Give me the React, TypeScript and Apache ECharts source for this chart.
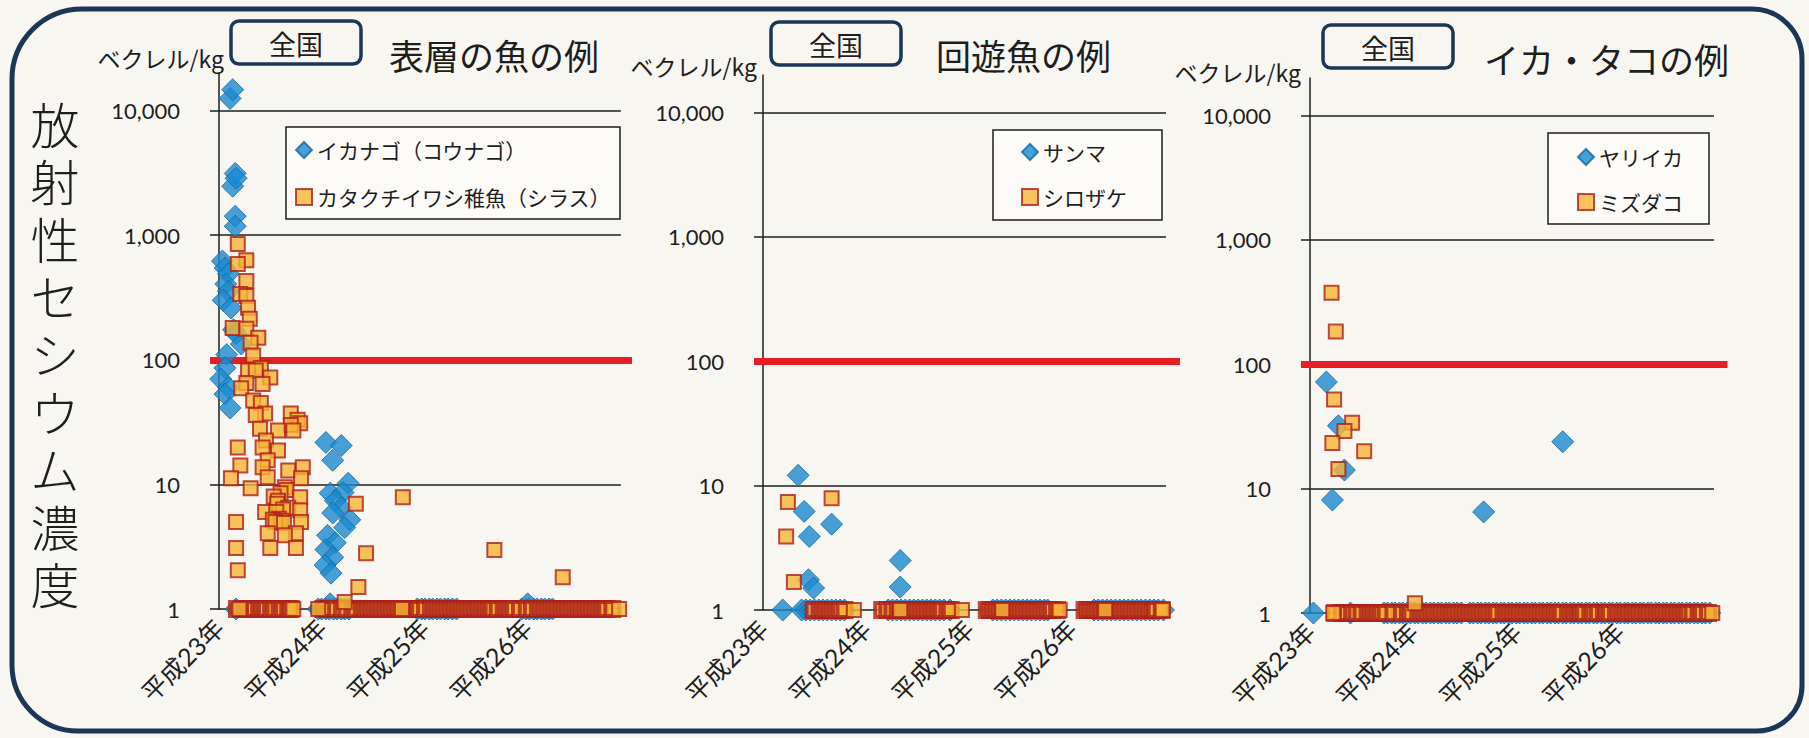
import React, { useEffect, useRef } from 'react';
import * as echarts from 'echarts';

// x values: months from the start of 平成23年 on the time axis; y values: Bq/kg.
// Samples below detection are plotted on the 1 Bq/kg baseline.
const ND_VALUE = 1;

const yearTickMonths = [0, 12, 24, 36];
const yearLabels = ['平成23年', '平成24年', '平成25年', '平成26年'];
const gridLineValues = [1, 10, 1000, 10000];
const limitValue = 100;
const lastMonth = 47;

const panelTitles = ['表層の魚の例', '回遊魚の例', 'イカ・タコの例'];
const regionLabel = '全国';
const unitLabel = 'ベクレル/kg';
const axisTitle = '放射性セシウム濃度';

// ---------- Panel 1: 表層の魚 ----------
const ikanagoName = 'イカナゴ（コウナゴ）';
const ikanagoDetected = [
  [1.3, 12500], [1.6, 14700], [1.6, 2470], [1.9, 3130], [2.0, 2860], [1.9, 1420], [1.9, 1180],
  [0.4, 620], [0.7, 545], [1.1, 490], [0.8, 405], [1.1, 355], [0.5, 300], [1.4, 260], [1.7, 174],
  [2.0, 162], [2.6, 134], [0.9, 110], [0.7, 86], [0.2, 70], [1.1, 60], [0.7, 53], [1.3, 41],
  [12.5, 21.7], [14.3, 20.5], [13.3, 15.6], [15.1, 10.2], [13.0, 8.5], [14.5, 8.6], [13.6, 7.4],
  [14.3, 6.5], [13.3, 5.9], [15.3, 5.2], [14.7, 4.5], [12.7, 3.9], [13.6, 3.4], [12.5, 3.0],
  [13.3, 2.6], [12.4, 2.25], [13.1, 1.94], [13.0, 1.1], [36.1, 1.1],
];
const ikanagoND = [
  2.0, 11.6, 12.0, 12.5, 12.9, 13.4, 13.8, 14.3, 14.7, 15.2,
  23.2, 23.7, 24.1, 24.6, 25.0, 25.5, 25.9, 26.4, 26.8, 27.3, 27.8,
  35.4, 35.9, 36.3, 36.8, 37.2, 37.7, 38.1, 38.6, 39.0,
];
const shirasuName = 'カタクチイワシ稚魚（シラス）';
const shirasuDetected = [
  [2.2, 847], [3.2, 630], [2.2, 586], [3.2, 429], [2.5, 337], [3.2, 325], [3.4, 261], [3.6, 213],
  [1.6, 180], [3.2, 177], [4.6, 150], [3.7, 137], [4.0, 108], [4.9, 86], [3.4, 82], [4.3, 82],
  [6.0, 72], [3.2, 65], [2.6, 59], [5.1, 64], [4.0, 47], [4.9, 45], [5.4, 37], [8.4, 37],
  [4.3, 36], [9.2, 33], [9.5, 31], [8.4, 30], [8.7, 27], [6.9, 27], [4.8, 28], [5.5, 22.5],
  [2.2, 19.8], [6.9, 18.7], [5.1, 19.8], [5.7, 15.6], [2.5, 14.2], [9.8, 13.7], [5.1, 13.7],
  [8.1, 12.9], [1.4, 11.2], [9.6, 11.2], [5.7, 11.4], [3.7, 9.3], [7.7, 9.5], [7.9, 9.0],
  [7.2, 8.5], [6.4, 8.0], [9.5, 7.9], [6.9, 7.4], [6.8, 7.0], [8.1, 6.5], [7.5, 6.3], [9.5, 6.2],
  [5.4, 6.0], [6.7, 6.0], [7.0, 5.3], [6.3, 5.2], [7.3, 5.1], [6.6, 5.0], [9.6, 5.0], [2.0, 5.0],
  [7.6, 4.9], [16.0, 7.0], [5.7, 4.05], [9.0, 4.05], [7.7, 3.9], [2.0, 3.08], [6.0, 3.08],
  [9.0, 3.08], [17.2, 2.8], [2.2, 2.05], [16.3, 1.5], [14.7, 1.14], [21.5, 7.9], [32.2, 2.97],
  [40.2, 1.8],
];
const shirasuND = [
  2.1, 2.9, 3.3, 3.7, 4.1, 4.7, 5.1, 5.5, 6.1, 6.5, 7.1, 7.5, 8.1, 8.4,
  12.2, 12.6, 13.0, 13.7, 14.4, 14.9, 15.6, 16.0, 16.7, 17.1, 17.5, 17.9, 18.3, 18.7, 19.1,
  19.5, 19.9, 20.3, 20.7, 21.1, 21.8, 22.2, 22.6, 23.0, 23.4, 24.1, 24.8, 25.2, 25.6, 26.0,
  26.4, 26.8, 27.2, 27.6, 28.0, 28.4, 28.8, 29.2, 29.6, 30.0, 30.4, 30.8, 31.2, 31.6, 32.0,
  32.6, 33.3, 33.7, 34.1, 34.5, 35.2, 36.0, 36.6, 37.3, 37.7, 38.1, 38.5, 38.9, 39.3, 39.7,
  40.1, 40.5, 40.9, 41.3, 41.7, 42.1, 42.5, 42.9, 43.3, 43.7, 44.1, 44.5, 44.9, 45.3, 46.0,
];
const shirasuNDTop = [2.4, 8.7, 11.6, 21.4, 46.8];

// ---------- Panel 2: 回遊魚 ----------
const sanmaName = 'サンマ';
const sanmaDetected = [
  [4.1, 12.1], [4.8, 6.2], [8.0, 4.9], [5.4, 3.9], [16.0, 2.5], [5.3, 1.75], [5.9, 1.5], [16.0, 1.53],
];
const sanmaND = [
  2.3, 4.5, 5.0, 5.5, 6.0, 6.5, 7.0, 7.5, 8.0, 8.5, 9.0, 9.5,
  14.6, 15.1, 15.6, 16.1, 16.6, 17.1, 17.6, 18.1, 18.6, 19.1, 19.6, 20.1, 20.6, 21.1, 21.8,
  26.8, 27.3, 27.8, 28.3, 28.8, 29.3, 29.8, 30.3, 30.8, 31.3, 31.8, 32.3, 32.8, 33.2,
  38.6, 39.1, 39.6, 40.1, 40.6, 41.1, 41.6, 42.1, 42.6, 43.1, 43.6, 44.1, 44.6, 45.1, 45.6,
  46.1, 46.7,
];
const shirozakeName = 'シロザケ';
const shirozakeDetected = [[2.9, 7.4], [8.0, 7.9], [2.7, 3.9], [3.6, 1.68]];
const shirozakeND = [
  5.9, 6.6, 7.0, 7.4, 7.8, 8.2, 8.6, 9.0, 9.5,
  13.9, 14.5, 15.1, 15.7, 16.1, 16.5, 16.9, 17.3, 17.7, 18.1, 18.5, 18.9, 19.3, 19.7, 20.1,
  20.5, 20.9, 21.5, 21.9,
  26.1, 26.5, 26.9, 27.3, 27.7, 28.1, 28.5, 28.9, 29.3, 29.7, 30.1, 30.5, 30.9, 31.3, 31.7,
  32.1, 32.5, 32.9, 33.3, 33.7, 34.3,
  37.5, 37.9, 38.3, 38.7, 39.1, 39.5, 39.9, 40.3, 40.7, 41.1, 41.5, 41.9, 42.3, 42.7, 43.1,
  43.5, 43.9, 44.3, 44.7, 45.1, 45.5, 45.8, 46.5,
];
const shirozakeNDTop = [10.6, 16.0, 23.2, 27.9, 34.6, 39.9, 46.6];

// ---------- Panel 3: イカ・タコ ----------
const yariikaName = 'ヤリイカ';
const yariikaDetected = [[1.9, 72], [3.3, 32], [4.0, 14.1], [2.6, 8.1], [20.2, 6.5], [29.4, 23.8]];
const yariikaND = [
  0.4, 4.7, 8.6, 9.0, 9.5, 9.9, 10.4, 10.8, 11.3, 11.7, 12.2, 12.6, 13.1, 13.5, 14.0, 14.4,
  14.9, 15.3, 15.8, 16.2, 16.7, 17.1, 17.6, 18.6, 19.0, 19.5, 19.9, 20.4, 20.8, 21.3, 21.7,
  22.2, 22.6, 23.1, 23.5, 24.0, 24.4, 24.9, 25.3, 25.8, 26.2, 26.7, 27.1, 27.6, 28.0, 28.5,
  28.9, 29.4, 29.8, 30.3, 30.7, 31.2, 31.6, 32.1, 32.5, 33.0, 33.4, 33.9, 34.3, 34.8, 35.2,
  35.7, 36.1, 36.6, 37.0, 37.5, 37.9, 38.4, 38.8, 39.3, 39.7, 40.2, 40.6, 41.1, 41.5, 42.0,
  42.4, 42.9, 43.3, 43.8, 44.2, 44.7, 45.1, 45.6, 46.0, 46.5,
];
const mizudakoName = 'ミズダコ';
const mizudakoDetected = [
  [2.5, 375], [3.0, 183], [2.8, 52], [4.9, 33.8], [4.0, 29], [2.6, 23.3], [6.3, 20], [3.3, 14.4],
  [12.2, 1.2],
];
const mizudakoND = [
  2.9, 3.7, 4.3, 4.9, 5.4, 6.0, 6.7, 7.1, 7.5, 7.9, 8.3, 8.8, 9.7, 10.7, 11.4, 11.8, 12.6,
  13.0, 13.4, 13.8, 14.2, 14.6, 15.0, 15.4, 15.8, 16.2, 16.6, 17.0, 17.4, 17.8, 18.2, 18.6,
  19.0, 19.4, 19.8, 20.2, 20.6, 21.0, 21.4, 21.8, 22.5, 22.9, 23.3, 23.7, 24.1, 24.5, 24.9,
  25.3, 25.7, 26.1, 26.5, 26.9, 27.3, 27.7, 28.1, 28.5, 28.9, 29.3, 30.0, 30.4, 30.8, 31.2,
  31.5, 31.9, 32.6, 33.0, 33.5, 34.2, 34.5, 34.9, 35.6, 36.0, 36.4, 36.8, 37.2, 37.6, 38.0,
  38.4, 38.8, 39.2, 39.6, 40.0, 40.4, 40.8, 41.2, 41.6, 42.0, 42.4, 42.8, 43.2, 43.6, 44.0,
  44.5, 45.2, 45.6, 46.3,
];
const mizudakoNDTop = [2.7, 46.8];

// ---------- styling / layout ----------
const BLUE = '#1a8ad0';
const BLUE_EDGE = '#15679e';
const AMBER = '#f6b437';
const RED_EDGE = '#ad1f1a';
const LIMIT_RED = '#e61f27';
const INK = '#1e1e1e';
const NAVY = '#1c3656';
const PAPER = '#f8f6f1';
const JP = '"Noto Sans CJK JP", sans-serif';
const NUM = 'Lato, "Noto Sans CJK JP", sans-serif';
const TITLE_FONT = '"DejaVu Sans", "Noto Sans CJK JP", sans-serif';

const panels = [
  {
    names: [ikanagoName, shirasuName],
    diamond: { detected: ikanagoDetected, nd: ikanagoND },
    square: { detected: shirasuDetected, nd: shirasuND, top: shirasuNDTop },
    grid: { left: 210, top: 73, width: 422, height: 536 }, xMin: -1.05, xMax: 48.3,
    legend: { left: 286, top: 127, padding: [12.5, 9, 11.5, 9], gap: 26 },
    box: { x: 231, y: 21 }, title: { x: 389, y: 54 }, unit: { x: 224, y: 58 },
  },
  {
    names: [sanmaName, shirozakeName],
    diamond: { detected: sanmaDetected, nd: sanmaND },
    square: { detected: shirozakeDetected, nd: shirozakeND, top: shirozakeNDTop },
    grid: { left: 754, top: 75, width: 426, height: 535 }, xMin: -1.05, xMax: 48.63,
    legend: { left: 993, top: 130, padding: [11.5, 35, 12.5, 28], gap: 24 },
    box: { x: 771, y: 22 }, title: { x: 936, y: 54 }, unit: { x: 757, y: 66 },
  },
  {
    names: [yariikaName, mizudakoName],
    diamond: { detected: yariikaDetected, nd: yariikaND },
    square: { detected: mizudakoDetected, nd: mizudakoND, top: mizudakoNDTop },
    grid: { left: 1301, top: 78, width: 426.5, height: 535 }, xMin: -1.05, xMax: 48.57,
    legend: { left: 1548, top: 133, padding: [13.5, 26, 11.5, 29], gap: 24 },
    box: { x: 1323, y: 25 }, title: { x: 1484, y: 58 }, unit: { x: 1301, y: 72 },
  },
];

function textEl(x: number, y: number, text: string, extra: any) {
  const align = extra.align || 'left';
  const vAlign = extra.verticalAlign || 'middle';
  return {
    type: 'text', x, y, silent: true, z: 10,
    style: {
      text, fill: INK, fontFamily: JP, fontSize: 20,
      align, textAlign: align, verticalAlign: vAlign, textVerticalAlign: vAlign,
      ...extra,
    },
  };
}

function buildOption() {
  const grids: any[] = [];
  const xAxes: any[] = [];
  const yAxes: any[] = [];
  const series: any[] = [];
  const legends: any[] = [];
  const graphics: any[] = [];

  graphics.push({
    type: 'rect', silent: true, z: 0,
    shape: { x: 12, y: 9, width: 1790, height: 722, r: [70, 50, 45, 66] },
    style: { fill: 'none', stroke: NAVY, lineWidth: 5 },
  });
  axisTitle.split('').forEach((ch, k) => {
    graphics.push(textEl(55, 127 + k * 57.6, ch, {
      fontSize: 49, align: 'center', verticalAlign: 'middle', fontWeight: 300, fontFamily: TITLE_FONT,
    }));
  });

  panels.forEach((p, i) => {
    grids.push({ ...p.grid });
    xAxes.push({
      type: 'value', gridIndex: i, min: p.xMin, max: p.xMax,
      axisLine: { show: false, onZero: false }, axisTick: { show: false }, splitLine: { show: false },
      axisLabel: {
        customValues: yearTickMonths, rotate: 45, margin: 14, fontSize: 25, color: INK, fontFamily: NUM,
        formatter: (v: number) => {
          const k = yearTickMonths.indexOf(Math.round(v));
          return k >= 0 && Math.abs(v - Math.round(v)) < 1e-6 ? yearLabels[k] : '';
        },
      },
    });
    yAxes.push({
      type: 'log', logBase: 10, gridIndex: i, min: 1, max: 20000,
      axisLine: { show: true, onZero: true, lineStyle: { color: INK, width: 1.5 } },
      axisTick: { show: false }, splitLine: { show: false },
      axisLabel: {
        margin: 30, fontSize: 22, color: INK, fontFamily: NUM, showMaxLabel: false,
        formatter: (v: number) => Math.round(v).toLocaleString('en-US'),
      },
    });

    const gridLines = gridLineValues.map((v) => [{ coord: [p.xMin, v] }, { coord: [lastMonth, v] }]);
    series.push({
      type: 'scatter', name: p.names[0], xAxisIndex: i, yAxisIndex: i, z: 2, silent: true,
      symbol: 'diamond', symbolSize: 22,
      itemStyle: { color: BLUE, borderColor: BLUE_EDGE, borderWidth: 1 },
      data: [...p.diamond.nd.map((m) => [m, ND_VALUE]), ...p.diamond.detected],
      markLine: {
        silent: true, symbol: ['none', 'none'], z: 1, animation: false,
        label: { show: false }, emphasis: { disabled: true },
        lineStyle: { color: INK, width: 1.5, type: 'solid' },
        data: [...gridLines, { yAxis: limitValue, lineStyle: { color: LIMIT_RED, width: 7, type: 'solid' } }],
      },
    });
    series.push({
      type: 'scatter', name: p.names[1], xAxisIndex: i, yAxisIndex: i, z: 3, silent: true,
      symbol: 'rect', symbolSize: 14,
      itemStyle: { color: AMBER, borderColor: RED_EDGE, borderWidth: 2 },
      data: [
        ...p.square.nd.map((m) => ({ value: [m, ND_VALUE], itemStyle: { borderWidth: 4 } })),
        ...p.square.top.map((m) => [m, ND_VALUE]),
        ...p.square.detected,
      ],
    });

    legends.push({
      data: p.names, orient: 'vertical', left: p.legend.left, top: p.legend.top,
      padding: p.legend.padding, itemGap: p.legend.gap, itemWidth: 16, itemHeight: 16,
      borderColor: INK, borderWidth: 1.5, backgroundColor: '#fcfbf8', selectedMode: false,
      textStyle: { fontSize: 21, color: INK, fontFamily: JP },
    });

    graphics.push({
      type: 'rect', silent: true, z: 5,
      shape: { x: p.box.x, y: p.box.y, width: 130, height: 43, r: 8 },
      style: { fill: 'none', stroke: NAVY, lineWidth: 3.5 },
    });
    graphics.push(textEl(p.box.x + 65, p.box.y + 22, regionLabel, { fontSize: 27, align: 'center' }));
    graphics.push(textEl(p.title.x, p.title.y, panelTitles[i], { fontSize: 35 }));
    graphics.push(textEl(p.unit.x, p.unit.y, unitLabel, { fontSize: 23, align: 'right' }));
  });

  return {
    animation: false,
    backgroundColor: PAPER,
    textStyle: { fontFamily: NUM },
    grid: grids,
    xAxis: xAxes,
    yAxis: yAxes,
    legend: legends,
    series,
    graphic: { elements: graphics },
  };
}

export default function App() {
  const ref = useRef<HTMLDivElement>(null);
  useEffect(() => {
    if (!ref.current) return;
    const chart = echarts.init(ref.current, null, { renderer: 'svg' });
    chart.setOption(buildOption() as any);
    return () => chart.dispose();
  }, []);
  return (
    <div
      ref={ref}
      style={{ position: 'fixed', left: 0, top: 0, width: 1809, height: 738 }}
    />
  );
}
